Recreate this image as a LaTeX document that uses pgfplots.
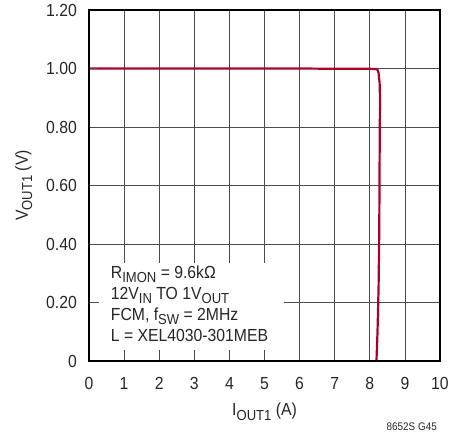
\documentclass[border=0pt]{standalone}
\usepackage{pgfplots}
\pgfplotsset{compat=1.18}
\usepackage{fontspec}
\setmainfont{Liberation Sans}[FakeStretch=0.9]
\newcommand\sub[1]{\raisebox{-0.45ex}{\fontsize{14.5}{14.5}\selectfont #1}}
\definecolor{curve}{RGB}{172,0,42}
\begin{document}
\fontsize{17.5}{21}\selectfont
\begin{tikzpicture}[x=1pt,y=1pt]
\pgfplotsset{base/.style={
  at={(0,0)}, anchor=south west, width=351pt, height=351pt, scale only axis,
  xmin=0, xmax=10, ymin=0, ymax=1.2,
  xtick={0,1,2,3,4,5,6,7,8,9,10},
  ytick={0,0.2,0.4,0.6,0.8,1.0,1.2},
  axis line style={line width=1.3pt, black},
}}
\begin{axis}[base,
  yticklabels={0,0.20,0.40,0.60,0.80,1.00,1.20},
  xticklabels={0,1,2,3,4,5,6,7,8,9,10},
  grid=major, major grid style={black!70, line width=0.8pt},
  major tick length=0pt,
  tick label style={font=\fontsize{17.5}{21}\selectfont, text=black!85},
  yticklabel style={anchor=east, inner sep=0pt, xshift=-12pt},
  xticklabel style={anchor=north, inner sep=0pt, yshift=-16pt},
  xlabel={I\sub{OUT1} (A)}, ylabel={V\sub{OUT1} (V)},
  label style={font=\fontsize{17.5}{21}\selectfont, text=black!85},
  xlabel style={at={(axis description cs:0.5,0)}, anchor=base, yshift=-55pt, inner sep=0pt},
  ylabel style={at={([xshift=-61pt]axis description cs:0,0.5)}, anchor=base, inner sep=0pt},
]
\fill[white] (axis cs:0.28,0.038) rectangle (axis cs:5.56,0.335);
\node[anchor=north west, inner sep=0pt, align=left, text=black!85,
  font=\fontsize{17.5}{21}\selectfont] at (axis cs:0.62,0.325)
  {R\sub{IMON} = 9.6kΩ\\12V\sub{IN} TO 1V\sub{OUT}\\FCM, f\sub{SW} = 2MHz\\L = XEL4030-301MEB};
\addplot[curve, line width=2.2pt, line join=round] coordinates {
 (0,1.000) (2,1.000) (4,1.000) (6,1.000) (7,0.999) (8.0,0.999) (8.15,0.998)
 (8.22,0.996) (8.25,0.985) (8.28,0.95) (8.29,0.90) (8.28,0.70) (8.27,0.45)
 (8.25,0.25) (8.22,0.10) (8.19,0)
};
\end{axis}
\begin{axis}[base, xticklabels={}, yticklabels={},
  tick align=inside, major tick length=8pt,
  tick style={black!70, line width=0.8pt},
  xtick pos=bottom, ytick pos=left]
\end{axis}
\node[anchor=base east, inner sep=0pt, text=black!85,
  font=\fontsize{11}{13}\selectfont] at (348,-70) {8652S G45};
\pgfresetboundingbox
\path (-89,-72) rectangle (375,361);
\end{tikzpicture}
\end{document}
